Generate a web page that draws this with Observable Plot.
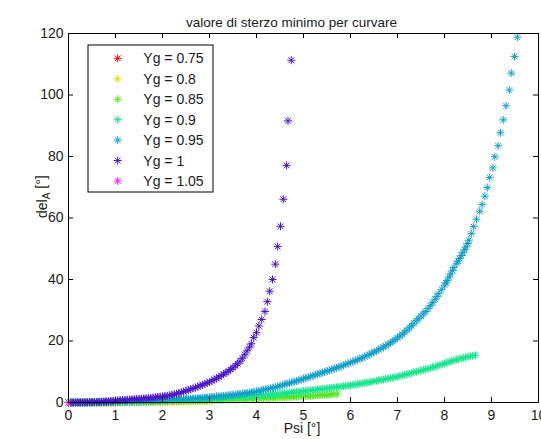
<!DOCTYPE html>
<html>
<head>
<meta charset="utf-8">
<script src="https://cdn.jsdelivr.net/npm/d3@7"></script>
<script src="https://cdn.jsdelivr.net/npm/@observablehq/plot@0.6"></script>
<style>
  html, body { margin: 0; padding: 0; background: #fff; }
  #chart svg { display: block; }
</style>
</head>
<body>
<div id="chart"></div>
<script>
// ---- data ----
const titleText = "valore di sterzo minimo per curvare";
const xLabel = "Psi [°]";
const xTicks = [0, 1, 2, 3, 4, 5, 6, 7, 8, 9, 10];
const yTicks = [0, 20, 40, 60, 80, 100, 120];
const seriesNames = ["Yg = 0.75", "Yg = 0.8", "Yg = 0.85", "Yg = 0.9", "Yg = 0.95", "Yg = 1", "Yg = 1.05"];
const seriesColors = ["#ff0000", "#e6dc00", "#55e61a", "#14e68c", "#12a0c8", "#4b14c8", "#ff14e6"];

// [Psi, del_A] pairs
const yg075 = [[0,0],[0.05,0],[0.1,0],[0.15,0],[0.2,0],[0.25,0],[0.3,0],[0.35,0],[0.4,0],[0.45,0],[0.5,0.01],
  [0.55,0.01],[0.6,0.01],[0.65,0.01],[0.7,0.01],[0.75,0.02],[0.8,0.02],[0.85,0.02],[0.9,0.02],[0.95,0.03],[1.0,0.03]];
const yg080 = [[0,0],[0.05,0],[0.1,0],[0.15,0],[0.2,0],[0.25,0],[0.3,0],[0.35,0],[0.4,0],[0.45,0.005],[0.5,0.01],
  [0.55,0.01],[0.6,0.01],[0.65,0.015],[0.7,0.02],[0.75,0.025],[0.8,0.03],[0.85,0.035],[0.9,0.04],[0.95,0.045],[1.0,0.05],
  [1.05,0.055],[1.1,0.06],[1.15,0.065],[1.2,0.07],[1.25,0.08],[1.3,0.09],[1.35,0.095],[1.4,0.1],[1.45,0.11],[1.5,0.12],
  [1.55,0.13],[1.6,0.14],[1.65,0.15],[1.7,0.16],[1.75,0.17],[1.8,0.18],[1.85,0.19],[1.9,0.2],[1.95,0.21],[2.0,0.22],
  [2.05,0.23],[2.1,0.24],[2.15,0.255],[2.2,0.27],[2.25,0.285],[2.3,0.3],[2.35,0.315],[2.4,0.33],[2.45,0.345],[2.5,0.36],
  [2.55,0.375],[2.6,0.39],[2.65,0.405],[2.7,0.42],[2.75,0.435],[2.8,0.45],[2.85,0.465],[2.9,0.48],[2.95,0.5],[3.0,0.52]];
const yg085 = [[0,0],[0.05,0],[0.1,0],[0.15,0],[0.2,0],[0.25,0],[0.3,0],[0.35,0.005],[0.4,0.01],[0.45,0.01],[0.5,0.01],
  [0.55,0.015],[0.6,0.02],[0.65,0.025],[0.7,0.03],[0.75,0.035],[0.8,0.04],[0.85,0.05],[0.9,0.06],[0.95,0.07],[1.0,0.08],
  [1.05,0.09],[1.1,0.1],[1.15,0.11],[1.2,0.12],[1.25,0.13],[1.3,0.14],[1.35,0.155],[1.4,0.17],[1.45,0.185],[1.5,0.2],
  [1.55,0.21],[1.6,0.22],[1.65,0.235],[1.7,0.25],[1.75,0.265],[1.8,0.28],[1.85,0.295],[1.9,0.31],[1.95,0.33],[2.0,0.35],
  [2.05,0.365],[2.1,0.38],[2.15,0.4],[2.2,0.42],[2.25,0.44],[2.3,0.46],[2.35,0.48],[2.4,0.5],[2.45,0.52],[2.5,0.54],
  [2.55,0.56],[2.6,0.58],[2.65,0.6],[2.7,0.62],[2.75,0.64],[2.8,0.66],[2.85,0.68],[2.9,0.7],[2.95,0.725],[3.0,0.75],
  [3.05,0.775],[3.1,0.8],[3.15,0.825],[3.2,0.85],[3.25,0.875],[3.3,0.9],[3.35,0.925],[3.4,0.95],[3.45,0.975],[3.5,1.0],
  [3.55,1.025],[3.6,1.05],[3.65,1.075],[3.7,1.1],[3.75,1.13],[3.8,1.16],[3.85,1.19],[3.9,1.22],[3.95,1.26],[4.0,1.3],
  [4.05,1.335],[4.1,1.37],[4.15,1.405],[4.2,1.44],[4.25,1.475],[4.3,1.51],[4.35,1.545],[4.4,1.58],[4.45,1.615],[4.5,1.65],
  [4.55,1.69],[4.6,1.73],[4.65,1.77],[4.7,1.81],[4.75,1.85],[4.8,1.89],[4.85,1.93],[4.9,1.97],[4.95,2.01],[5.0,2.05],
  [5.05,2.095],[5.1,2.14],[5.15,2.185],[5.2,2.23],[5.25,2.275],[5.3,2.32],[5.35,2.37],[5.4,2.42],[5.45,2.47],[5.5,2.52],
  [5.55,2.58],[5.6,2.64],[5.65,2.71],[5.72,2.8]];
const yg090 = [[0,0],[0.05,0],[0.1,0],[0.15,0],[0.2,0],[0.25,0.005],[0.3,0.01],[0.35,0.015],[0.4,0.02],[0.45,0.025],[0.5,0.03],
  [0.55,0.04],[0.6,0.05],[0.65,0.06],[0.7,0.07],[0.75,0.08],[0.8,0.09],[0.85,0.105],[0.9,0.12],[0.95,0.135],[1.0,0.15],
  [1.05,0.17],[1.1,0.19],[1.15,0.21],[1.2,0.23],[1.25,0.25],[1.3,0.27],[1.35,0.29],[1.4,0.31],[1.45,0.335],[1.5,0.36],
  [1.55,0.385],[1.6,0.41],[1.65,0.435],[1.7,0.46],[1.75,0.485],[1.8,0.51],[1.85,0.535],[1.9,0.56],[1.95,0.59],[2.0,0.62],
  [2.05,0.65],[2.1,0.68],[2.15,0.71],[2.2,0.74],[2.25,0.77],[2.3,0.8],[2.35,0.83],[2.4,0.86],[2.45,0.895],[2.5,0.93],
  [2.55,0.965],[2.6,1.0],[2.65,1.035],[2.7,1.07],[2.75,1.105],[2.8,1.14],[2.85,1.18],[2.9,1.22],[2.95,1.26],[3.0,1.3],
  [3.05,1.34],[3.1,1.38],[3.15,1.42],[3.2,1.46],[3.25,1.5],[3.3,1.54],[3.35,1.585],[3.4,1.63],[3.45,1.675],[3.5,1.72],
  [3.55,1.77],[3.6,1.82],[3.65,1.87],[3.7,1.92],[3.75,1.97],[3.8,2.02],[3.85,2.075],[3.9,2.13],[3.95,2.185],[4.0,2.24],
  [4.05,2.295],[4.1,2.35],[4.15,2.41],[4.2,2.47],[4.25,2.535],[4.3,2.6],[4.35,2.67],[4.4,2.74],[4.45,2.82],[4.5,2.9],
  [4.55,2.975],[4.6,3.05],[4.65,3.125],[4.7,3.2],[4.75,3.28],[4.8,3.36],[4.85,3.44],[4.9,3.52],[4.95,3.61],[5.0,3.7],
  [5.05,3.79],[5.1,3.88],[5.15,3.97],[5.2,4.06],[5.25,4.15],[5.3,4.24],[5.35,4.33],[5.4,4.42],[5.45,4.51],[5.5,4.6],
  [5.55,4.7],[5.6,4.8],[5.65,4.9],[5.7,5.0],[5.75,5.1],[5.8,5.2],[5.85,5.3],[5.9,5.4],[5.95,5.5],[6.0,5.6],
  [6.05,5.72],[6.1,5.84],[6.15,5.96],[6.2,6.08],[6.25,6.2],[6.3,6.32],[6.35,6.46],[6.4,6.6],[6.45,6.75],[6.5,6.9],
  [6.55,7.05],[6.6,7.2],[6.65,7.35],[6.7,7.5],[6.75,7.65],[6.8,7.8],[6.85,7.95],[6.9,8.1],[6.95,8.25],[7.0,8.4],
  [7.05,8.6],[7.1,8.8],[7.15,9.0],[7.2,9.2],[7.25,9.4],[7.3,9.6],[7.35,9.8],[7.4,10.0],[7.45,10.2],[7.5,10.4],
  [7.55,10.6],[7.6,10.8],[7.65,11.0],[7.7,11.2],[7.75,11.45],[7.8,11.7],[7.85,11.95],[7.9,12.2],[7.95,12.45],[8.0,12.7],
  [8.05,12.95],[8.1,13.2],[8.15,13.45],[8.2,13.7],[8.25,13.9],[8.3,14.1],[8.35,14.3],[8.4,14.5],[8.45,14.7],[8.5,14.9],
  [8.55,15.05],[8.6,15.2],[8.66,15.4]];
const yg095 = [[0,0],[0.05,0],[0.1,0],[0.15,0.005],[0.2,0.01],[0.25,0.015],[0.3,0.02],[0.35,0.03],[0.4,0.04],[0.45,0.055],[0.5,0.07],
  [0.55,0.085],[0.6,0.1],[0.65,0.12],[0.7,0.14],[0.75,0.165],[0.8,0.19],[0.85,0.215],[0.9,0.24],[0.95,0.27],[1.0,0.3],
  [1.05,0.325],[1.1,0.35],[1.15,0.375],[1.2,0.4],[1.25,0.425],[1.3,0.45],[1.35,0.475],[1.4,0.5],[1.45,0.525],[1.5,0.55],
  [1.55,0.575],[1.6,0.6],[1.65,0.625],[1.7,0.65],[1.75,0.675],[1.8,0.7],[1.85,0.725],[1.9,0.75],[1.95,0.775],[2.0,0.8],
  [2.05,0.835],[2.1,0.87],[2.15,0.905],[2.2,0.94],[2.25,0.975],[2.3,1.01],[2.35,1.045],[2.4,1.08],[2.45,1.12],[2.5,1.16],
  [2.55,1.2],[2.6,1.24],[2.65,1.29],[2.7,1.34],[2.75,1.39],[2.8,1.45],[2.85,1.51],[2.9,1.57],[2.95,1.63],[3.0,1.7],
  [3.05,1.77],[3.1,1.85],[3.15,1.92],[3.2,2.0],[3.25,2.07],[3.3,2.15],[3.35,2.22],[3.4,2.3],[3.45,2.4],[3.5,2.5],
  [3.55,2.6],[3.6,2.7],[3.65,2.8],[3.7,2.9],[3.75,3.0],[3.8,3.1],[3.85,3.22],[3.9,3.35],[3.95,3.47],[4.0,3.6],
  [4.05,3.75],[4.1,3.9],[4.15,4.1],[4.2,4.3],[4.25,4.45],[4.3,4.6],[4.35,4.8],[4.4,5.0],[4.45,5.2],[4.5,5.4],
  [4.55,5.65],[4.6,5.9],[4.65,6.1],[4.7,6.3],[4.75,6.55],[4.8,6.8],[4.85,7.0],[4.9,7.2],[4.95,7.45],[5.0,7.7],
  [5.05,7.95],[5.1,8.2],[5.15,8.45],[5.2,8.7],[5.25,8.95],[5.3,9.2],[5.35,9.45],[5.4,9.7],[5.45,9.95],[5.5,10.2],
  [5.55,10.45],[5.6,10.7],[5.65,11.0],[5.7,11.3],[5.75,11.55],[5.8,11.8],[5.85,12.1],[5.9,12.4],[5.95,12.7],[6.0,13.0],
  [6.05,13.3],[6.1,13.6],[6.15,13.9],[6.2,14.2],[6.25,14.55],[6.3,14.9],[6.35,15.25],[6.4,15.6],[6.45,16.0],[6.5,16.4],
  [6.55,16.8],[6.6,17.2],[6.65,17.6],[6.7,18.0],[6.75,18.45],[6.8,18.9],[6.85,19.4],[6.9,19.9],[6.95,20.45],[7.0,21.0],
  [7.05,21.6],[7.1,22.2],[7.15,22.85],[7.2,23.5],[7.25,24.25],[7.3,25.0],[7.35,25.8],[7.4,26.6],[7.45,27.35],[7.5,28.1],
  [7.55,28.85],[7.6,29.6],[7.65,30.5],[7.7,31.5],[7.75,32.5],[7.8,33.6],[7.84,34.5],[7.88,35.4],[7.94,36.8],[8.0,38.2],
  [8.03,38.9],[8.06,39.7],[8.1,40.8],[8.13,41.8],[8.17,42.9],[8.2,43.9],[8.26,45.3],[8.29,46.0],[8.32,46.8],[8.36,47.8],
  [8.39,48.7],[8.43,49.7],[8.46,50.6],[8.49,51.7],[8.52,52.8],[8.57,54.9],[8.62,57.2],[8.68,59.6],[8.75,62.2],[8.8,64.4],
  [8.86,67.1],[8.91,69.9],[8.96,73.2],[9.03,76.3],[9.07,79.9],[9.14,83.5],[9.19,87.7],[9.25,91.9],[9.31,96.5],[9.38,101.6],
  [9.42,107.1],[9.49,112.5],[9.55,118.8]];
const yg100 = [[0,0],[0.05,0],[0.1,0.01],[0.15,0.015],[0.2,0.02],[0.25,0.035],[0.3,0.05],[0.35,0.07],[0.4,0.09],[0.45,0.11],[0.5,0.14],
  [0.55,0.17],[0.6,0.2],[0.65,0.24],[0.7,0.28],[0.75,0.32],[0.8,0.37],[0.85,0.42],[0.9,0.48],[0.95,0.54],[1.0,0.6],
  [1.05,0.66],[1.1,0.72],[1.15,0.78],[1.2,0.84],[1.25,0.9],[1.3,0.96],[1.35,1.02],[1.4,1.08],[1.45,1.14],[1.5,1.2],
  [1.55,1.26],[1.6,1.32],[1.65,1.38],[1.7,1.45],[1.75,1.52],[1.8,1.6],[1.85,1.69],[1.9,1.78],[1.95,1.88],[2.0,1.98],
  [2.05,2.09],[2.1,2.2],[2.15,2.34],[2.2,2.5],[2.25,2.67],[2.3,2.85],[2.35,3.07],[2.4,3.3],[2.45,3.55],[2.5,3.8],
  [2.55,4.05],[2.6,4.3],[2.65,4.57],[2.7,4.85],[2.75,5.15],[2.8,5.45],[2.85,5.75],[2.9,6.05],[2.95,6.37],[3.0,6.7],
  [3.05,7.07],[3.1,7.45],[3.15,7.87],[3.2,8.3],[3.25,8.75],[3.3,9.2],[3.35,9.7],[3.4,10.2],[3.45,10.73],[3.5,11.3],
  [3.55,11.93],[3.6,12.6],[3.65,13.45],[3.7,14.4],[3.75,15.5],[3.8,16.8],[3.85,18.0],[3.89,19.1],[3.94,21.1],[4.0,22.7],
  [4.05,24.9],[4.11,27.0],[4.18,29.6],[4.23,32.8],[4.28,36.2],[4.34,40.0],[4.4,45.0],[4.45,50.7],[4.51,57.3],[4.57,66.1],
  [4.64,77.1],[4.67,91.6],[4.74,111.3]];
const yg105 = [[0,0]];

const seriesData = [yg075, yg080, yg085, yg090, yg095, yg100, yg105];

// ---- MATLAB-style asterisk marker (plus + cross) ----
const asterisk = {
  draw(ctx, size) {
    const r = Math.sqrt(size / Math.PI);
    const d = r * 0.72;
    ctx.moveTo(-r, 0); ctx.lineTo(r, 0);
    ctx.moveTo(0, -r); ctx.lineTo(0, r);
    ctx.moveTo(-d, -d); ctx.lineTo(d, d);
    ctx.moveTo(-d, d); ctx.lineTo(d, -d);
  }
};

const rows = seriesData.flatMap((s, i) => s.map(([psi, del]) => ({psi, del, name: seriesNames[i]})));

const W = 541, H = 439;
const mL = 68, mR = 3, mT = 33, mB = 37;
const tick = 5;
const frameW = W - mL - mR, frameH = H - mT - mB;

const plot = Plot.plot({
  width: W,
  height: H,
  marginLeft: mL, marginRight: mR, marginTop: mT, marginBottom: mB,
  style: {fontFamily: "'Liberation Sans', Arial, sans-serif", fontSize: "14px", background: "#fff", overflow: "visible"},
  x: {domain: [0, 10], axis: null},
  y: {domain: [0, 120], axis: null},
  color: {domain: seriesNames, range: seriesColors},
  marks: [
    Plot.dot(rows, {x: "psi", y: "del", stroke: "name", fill: "none", symbol: asterisk, r: 4, strokeWidth: 1}),
    Plot.frame({stroke: "#000", strokeWidth: 1}),
    // inward ticks on all four sides
    Plot.tickX(xTicks, {x: d => d, insetTop: frameH - tick, stroke: "#000"}),
    Plot.tickX(xTicks, {x: d => d, insetBottom: frameH - tick, stroke: "#000"}),
    Plot.tickY(yTicks, {y: d => d, insetRight: frameW - tick, stroke: "#000"}),
    Plot.tickY(yTicks, {y: d => d, insetLeft: frameW - tick, stroke: "#000"}),
    // tick labels
    Plot.text(xTicks, {x: d => d, frameAnchor: "bottom", lineAnchor: "top", dy: 8, text: d => String(d), fill: "#1a1a1a"}),
    Plot.text(yTicks, {y: d => d, frameAnchor: "left", textAnchor: "end", dx: -5, text: d => String(d), fill: "#1a1a1a"}),
    // axis labels and title
    Plot.text([xLabel], {frameAnchor: "bottom", dy: 30, dx: -1.5, text: d => d, fill: "#1a1a1a"}),
    Plot.text(["del"], {frameAnchor: "left", rotate: -90, dx: -26, text: d => d, fill: "#1a1a1a", className: "ylab"}),
    Plot.text([titleText], {frameAnchor: "top", dy: -16, dx: -12, text: d => d, fill: "#1a1a1a", fontSize: 13.5})
  ]
});

// y label with subscript: del_A [°]
const ylab = d3.select(plot).select(".ylab text");
ylab.text(null);
ylab.append("tspan").text("del");
ylab.append("tspan").attr("dy", "0.3em").attr("font-size", "10px").text("A");
ylab.append("tspan").attr("dy", "-0.3em").text(" [°]");

// legend box (top-left inside the axes)
const xs = plot.scale("x"), ys = plot.scale("y");
const fx0 = xs.range[0], fy0 = ys.range[1];
const lg = d3.select(plot).append("g")
  .attr("font-family", "'Liberation Sans', Arial, sans-serif").attr("font-size", 14).attr("text-anchor", "start");
const lx = fx0 + 20, ly = fy0 + 12, lw = 125, lh = 147, rowH = 20.45;
lg.append("rect").attr("x", lx).attr("y", ly).attr("width", lw).attr("height", lh)
  .attr("fill", "#fff").attr("stroke", "#000").attr("stroke-width", 1);
const sym = d3.symbol(asterisk, Math.PI * 4 * 4);
seriesNames.forEach((name, i) => {
  const cy = ly + 13.3 + i * rowH;
  lg.append("path").attr("d", sym()).attr("transform", `translate(${lx + 29.7},${cy})`)
    .attr("fill", "none").attr("stroke", seriesColors[i]).attr("stroke-width", 1);
  lg.append("text").attr("x", lx + 55.3).attr("y", cy).attr("dy", "0.36em")
    .attr("text-anchor", "start").attr("fill", "#1a1a1a").text(name);
});

document.getElementById("chart").appendChild(plot);
</script>
</body>
</html>
